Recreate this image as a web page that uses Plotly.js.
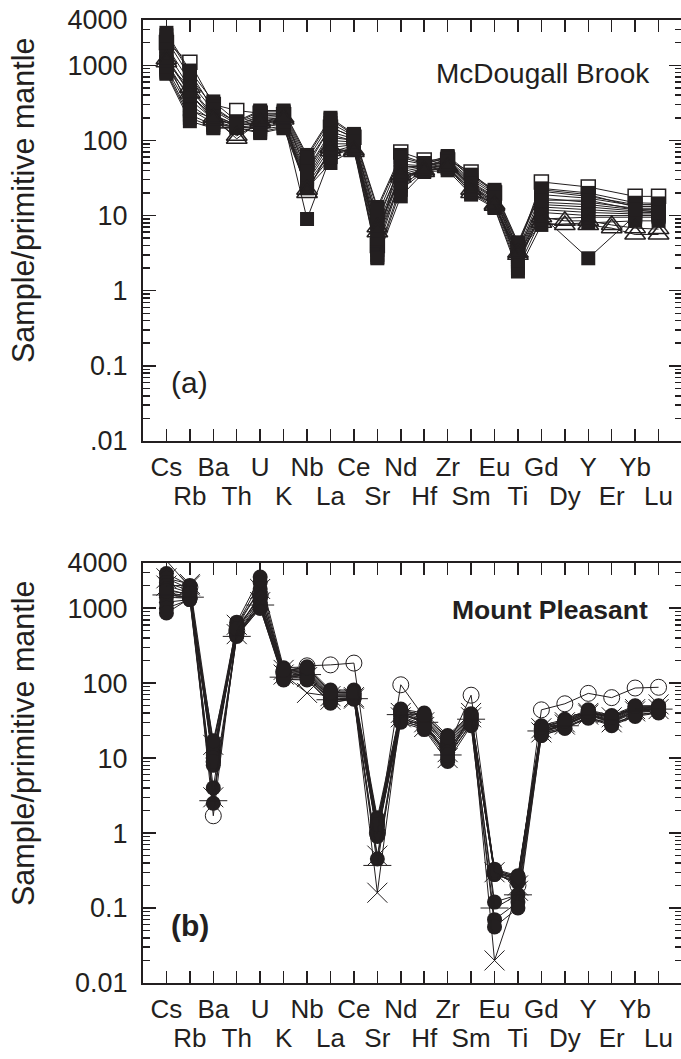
<!DOCTYPE html>
<html><head><meta charset="utf-8">
<script src="https://cdn.plot.ly/plotly-3.0.1.min.js"></script>
<style>html,body{margin:0;padding:0;overflow:hidden;background:#fff}#chart{width:682px;height:1059px}</style>
</head><body><div id="chart"></div>
<script>
// ---- categories ----
const elements = ['Cs','Rb','Ba','Th','U','K','Nb','La','Ce','Sr','Nd','Hf','Zr','Sm','Eu','Ti','Gd','Dy','Y','Er','Yb','Lu'];
const yTickVals = [4000, 1000, 100, 10, 1, 0.1, 0.01];
const yTickTextA = ['4000', '1000', '100', '10', '1', '0.1', '.01'];
const yTickTextB = ['4000', '1000', '100', '10', '1', '0.1', '0.01'];

// ---- (a) McDougall Brook ----
const mcdOpenSquare = [2000,1100,300,250,230,220,50,150,110,4,70,55,55,38,20,3.6,28,null,24,null,18,18];
const mcdFilledSquares = [
  [2700,850,330,180,250,250,64,200,122,13,64,50,62,35,22,4.4,23,null,20,null,14.8,14.5],
  [2200,700,280,172,220,230,55,170,115,10,55,48,60,32,20,4.0,21,null,18,null,14,14],
  [1800,600,250,165,200,210,45,150,110,8,48,46,56,30,19,3.5,19,null,17,null,13.5,13],
  [1500,500,220,160,190,200,40,130,105,7,42,45,55,28,18,3.2,17,null,15,null,12.5,12.5],
  [1300,420,200,155,180,190,35,110,100,6,38,44,52,26,17,3.0,15,null,14,null,12,12],
  [1100,350,190,160,170,180,32,100,95,5,35,43,50,25,16,2.8,14,null,13,null,11.5,11.5],
  [1000,300,180,150,160,170,30,90,90,4,32,42,48,24,15,2.6,13,null,12,null,11,11],
  [900,260,170,148,150,165,28,80,88,3.5,30,41,47,23,14.5,2.4,12,null,11,null,10.5,10.5],
  [850,220,160,152,140,155,26,70,85,3,25,40,45,22,14,2.2,11,null,10,null,10,10],
  [800,200,150,147,130,150,24,60,80,2.8,22,39,43,20,13,2.0,9,null,9.5,null,9.5,9.5],
  [770,180,145,146,125,145,23,50,75,2.7,18,38,40,19,12.6,1.8,7.5,null,8,null,8.5,8.5],
  [1200,250,200,158,170,180,9,60,85,5,28,42,48,25,15,2.5,10,null,2.7,null,10,10],
  [2500,800,260,175,240,240,60,190,118,12,60,49,58,34,21,4.2,22,null,19,null,13,13.5],
  [950,400,210,162,210,220,38,120,98,9,45,45,53,27,17.5,3.3,16,null,16,null,12,11]
];
const mcdTriangles = [
  [1100,500,200,105,180,200,20,80,70,6,35,38,45,20,14,3.0,8,7.5,7.5,6.8,5.6,5.6],
  [1200,420,185,115,170,190,22,72,74,7,32,40,43,22,13.5,3.2,9.5,8.5,8.5,7.5,6.8,6.6]
];

// ---- (b) Mount Pleasant ----
const mpFilledCircles = [
  [2900,2000,10,650,2600,160,165,81,81,1.6,45,40,20,39,0.33,0.27,27,33,44,37,50,50],
  [2500,1800,12,600,2200,150,155,78,78,1.4,43,38,18,37,0.32,0.26,26,32,43,36,48,49],
  [2200,1700,9,560,1800,145,150,75,75,1.3,42,36,17,36,0.31,0.25,25,31,42,35,47,48],
  [2000,1600,8,520,1500,140,145,72,72,1.2,40,34,16,35,0.30,0.25,24,30,41,34,46,47],
  [1800,1500,11,500,1300,135,140,70,70,1.1,39,32,15,34,0.29,0.24,24,29,40,33,45,46],
  [1600,1450,10,480,1200,130,135,68,68,1.0,38,30,14,33,0.28,0.23,23,28,39,32,44,45],
  [1500,1400,15,460,1100,125,130,65,66,0.95,36,28,13,32,0.28,0.22,22,28,38,31,42,44],
  [1400,1350,17,440,1050,120,125,62,64,0.9,34,27,12,30,0.30,0.24,22,27,37,30,40,43],
  [1200,1300,4,430,1000,115,120,58,62,1.0,32,25,10,29,0.12,0.15,21,26,35,28,38,41],
  [1000,1300,2.5,420,1000,110,115,55,61,0.45,30,24,9,27,0.07,0.12,20,25,34,27,36,40],
  [860,1350,10,450,1100,112,110,54,63,1.5,31,26,11,28,0.056,0.10,20,25,35,28,37,41],
  [1700,1550,9,530,1400,150,160,76,73,1.3,44,37,19,38,0.32,0.26,26,31,42,35,49,47]
];
const mpOpenCircle = [4300,1900,1.7,500,1500,140,170,175,185,1.0,95,35,14,69,0.30,0.20,44,53,73,64,86,88];
const mpCrosses = [
  [2000,2000,3,450,1200,130,74,67,65,0.16,40,30,10,40,0.02,0.17,22,30,40,35,45,45],
  [2500,2100,15,600,1800,150,120,60,62,0.5,35,26,12,35,0.30,0.20,25,28,38,30,42,52]
];
const mpPlus = [1500,1400,2.7,420,1100,120,130,60,62,0.37,38,30,11,33,0.10,0.15,23,27,38,32,42,45];

// ---- build ----
const ink = '#231f20';
const idx = elements.map((_, i) => i);
const traces = [];
function addTrace(vals, xa, ya, marker) {
  traces.push({x: idx, y: vals, xaxis: xa, yaxis: ya, mode: 'lines+markers',
    connectgaps: true, cliponaxis: false, showlegend: false, hoverinfo: 'skip',
    line: {color: ink, width: 1}, marker: marker});
}
addTrace(mcdOpenSquare, 'x', 'y', {symbol: 'square', size: 14, color: '#ffffff', line: {color: ink, width: 1.5}});
mcdFilledSquares.forEach(v => addTrace(v, 'x', 'y', {symbol: 'square', size: 14, color: ink}));
mcdTriangles.forEach(v => addTrace(v, 'x', 'y', {symbol: 'triangle-up-open', size: 18, color: ink, line: {color: ink, width: 1.5}}));

mpFilledCircles.forEach(v => addTrace(v, 'x2', 'y2', {symbol: 'circle', size: 15, color: ink}));
addTrace(mpOpenCircle, 'x2', 'y2', {symbol: 'circle-open', size: 16, color: ink, line: {color: ink, width: 1}});
mpCrosses.forEach(v => addTrace(v, 'x2', 'y2', {symbol: 'x-thin-open', size: 20, color: ink, line: {color: ink, width: 1}}));
addTrace(mpPlus, 'x2', 'y2', {symbol: 'line-ew-open', size: 20, color: ink, line: {color: ink, width: 1}});

// empty traces so the second-row label axes get drawn
traces.push({x: [], y: [], xaxis: 'x3', yaxis: 'y', mode: 'markers', showlegend: false, hoverinfo: 'skip'});
traces.push({x: [], y: [], xaxis: 'x4', yaxis: 'y2', mode: 'markers', showlegend: false, hoverinfo: 'skip'});

const minorVals = [];
for (let d = -2; d <= 3; d++) for (let k = 2; k <= 9; k++) { const v = k * Math.pow(10, d); if (v < 4000) minorVals.push(v); }

const oddVals = idx.filter(i => i % 2 === 1);
const xRange = [-1, 22];
const fontMain = 'Liberation Sans, Arial, sans-serif';
const catFont = {family: fontMain, size: 26, color: ink};

function xMain(anchor) {
  return {anchor: anchor, range: xRange, autorange: false, tickmode: 'array', tickvals: idx,
    ticktext: idx.map(i => i % 2 === 0 ? elements[i] : ''),
    ticks: 'inside', ticklen: 12, tickwidth: 1.5, tickcolor: ink,
    showline: true, linewidth: 2, linecolor: ink, mirror: 'ticks',
    showgrid: false, zeroline: false, tickfont: catFont, ticklabelstandoff: 2, fixedrange: true};
}
function xOdd(over, anchor) {
  return {overlaying: over, anchor: anchor, side: 'bottom', range: xRange, autorange: false,
    tickmode: 'array', tickvals: oddVals,
    ticktext: oddVals.map(i => elements[i]), ticks: '', showline: false, showgrid: false,
    zeroline: false, tickfont: catFont, ticklabelstandoff: 37, fixedrange: true};
}
function yAx(anchor, domain, text) {
  return {anchor: anchor, domain: domain, type: 'log', range: [-2, Math.log10(4000)], autorange: false,
    tickmode: 'array', tickvals: yTickVals, ticktext: text,
    ticks: 'inside', ticklen: 13, tickwidth: 1.5, tickcolor: ink,
    minor: {tickvals: minorVals, ticks: 'inside', ticklen: 7, tickwidth: 1.5, tickcolor: ink},
    showline: true, linewidth: 2, linecolor: ink, mirror: 'ticks',
    showgrid: false, zeroline: false, tickfont: {family: fontMain, size: 27, color: ink},
    ticklabelstandoff: 8, fixedrange: true};
}

const H = 963; // plot area height in px
function ann(o) { return Object.assign({showarrow: false, xanchor: 'center', yanchor: 'middle'}, o); }
const layout = {
  width: 682, height: 1059,
  margin: {l: 143, r: 0, t: 20, b: 76},
  paper_bgcolor: '#ffffff', plot_bgcolor: '#ffffff',
  xaxis: xMain('y'), xaxis3: xOdd('x', 'y'),
  xaxis2: xMain('y2'), xaxis4: xOdd('x2', 'y2'),
  yaxis: yAx('x', [542 / H, 1], yTickTextA),
  yaxis2: yAx('x2', [0, 420 / H], yTickTextB),
  annotations: [
    ann({text: 'Sample/primitive mantle', xref: 'paper', yref: 'paper', x: (24 - 143) / 539, y: (983 - 201) / H,
     textangle: -90, font: {family: fontMain, size: 30.5, color: ink}}),
    ann({text: 'Sample/primitive mantle', xref: 'paper', yref: 'paper', x: (24 - 143) / 539, y: (983 - 744) / H,
     textangle: -90, font: {family: fontMain, size: 30.5, color: ink}}),
    ann({text: 'McDougall Brook', xref: 'x domain', yref: 'y domain', x: 0.944, y: 0.874, xanchor: 'right',
     font: {family: fontMain, size: 28, color: ink}}),
    ann({text: '<b>Mount Pleasant</b>', xref: 'x2 domain', yref: 'y2 domain', x: 0.941, y: 0.888, xanchor: 'right',
     font: {family: fontMain, size: 26.5, color: ink}}),
    ann({text: '(a)', xref: 'x domain', yref: 'y domain', x: 0.087, y: 0.138,
     font: {family: fontMain, size: 30, color: ink}}),
    ann({text: '<b>(b)</b>', xref: 'x2 domain', yref: 'y2 domain', x: 0.087, y: 0.138,
     font: {family: fontMain, size: 30, color: ink}})
  ]
};

Plotly.newPlot('chart', traces, layout, {staticPlot: true, displayModeBar: false});
</script></body></html>
